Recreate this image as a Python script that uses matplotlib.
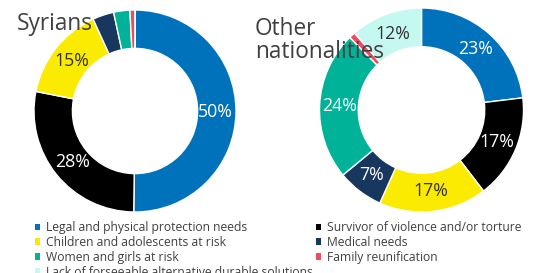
import matplotlib
matplotlib.use("Agg")
import matplotlib.pyplot as plt
from matplotlib.patches import Patch
import numpy as np

plt.rcParams['font.family'] = ['Open Sans', 'DejaVu Sans']

categories = ["Legal and physical protection needs",
              "Survivor of violence and/or torture",
              "Children and adolescents at risk",
              "Medical needs",
              "Women and girls at risk",
              "Family reunification",
              "Lack of forseeable alternative durable solutions"]
colors = ["#0072BC", "#000000", "#FAEB00", "#18375F", "#00B398", "#EF4A60", "#C5F8EF"]

syrians_values = [50.2, 27.9, 15.1, 3.4, 2.6, 0.8, 0.0]
syrians_labels = ["50%", "28%", "15%", "", "", "", ""]
other_values = [23.1, 16.5, 17.1, 7.3, 23.6, 1.0, 11.4]
other_labels = ["23%", "17%", "17%", "7%", "24%", "", "12%"]
label_colors = ["white", "white", "#333333", "white", "white", "white", "#333333"]

W, H = 538, 273
fig = plt.figure(figsize=(W / 100, H / 100), dpi=100)

def donut(cx, cy, r, values, labels, title, tx, ty):
    ax = fig.add_axes([(cx - r) / W, 1 - (cy + r) / H, 2 * r / W, 2 * r / H])
    ax.pie(values, colors=colors, startangle=90, counterclock=False,
           radius=1.0, wedgeprops=dict(width=0.38, edgecolor="white", linewidth=1.0))
    total = sum(values)
    cum = 0
    for v, lab, lc in zip(values, labels, label_colors):
        mid = (cum + v / 2) / total
        cum += v
        if not lab:
            continue
        ang = np.deg2rad(90 - 360 * mid)
        rr = 0.80
        ax.text(rr * np.cos(ang), rr * np.sin(ang), lab, ha="center", va="center",
                fontsize=12.8, color=lc)
    ax.set_xlim(-1, 1)
    ax.set_ylim(-1, 1)
    ax.set_aspect("equal")
    ax.axis("off")
    fig.text(tx / W, 1 - ty / H, title, ha="left", va="top", fontsize=16.3,
             color="#404040", linespacing=0.92)

donut(135, 111, 101, syrians_values, syrians_labels, "Syrians", 17, 12)
donut(421.5, 110, 102, other_values, other_labels, "Other\nnationalities", 255, 17)

order = [0, 2, 4, 6, 1, 3, 5]
handles = [Patch(facecolor=colors[i], edgecolor="none") for i in order]
labels = [categories[i] for i in order]
fig.legend(handles, labels, ncol=2, loc="upper left", bbox_to_anchor=(35 / W, 1 - 221 / H),
           frameon=False, fontsize=8.7, labelcolor="#404040", handlelength=0.42,
           handleheight=0.42, handletextpad=0.5, labelspacing=0.16, columnspacing=0.25,
           borderpad=0, borderaxespad=0)

fig.savefig("out.png", dpi=100, facecolor="white")
